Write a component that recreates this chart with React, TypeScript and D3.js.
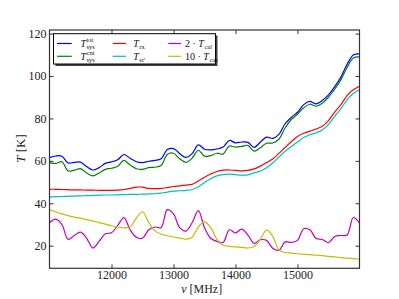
import * as d3 from 'd3'
import { useEffect, useRef } from 'react'

// frequency grid, MHz
const freqs = [
  11000, 11100, 11200, 11300, 11400, 11500, 11600, 11700, 11800, 11900,
  12000, 12100, 12200, 12300, 12400, 12500, 12600, 12700, 12800, 12900,
  13000, 13100, 13200, 13300, 13400, 13500, 13600, 13700, 13800, 13900,
  14000, 14100, 14200, 14300, 14400, 14500, 14600, 14700, 14800, 14900,
  15000, 15100, 15200, 15300, 15400, 15500, 15600, 15700, 15800, 15900, 16000,
]

// temperatures in K
const tSysTot = [
  61.5, 62.3, 62.2, 59.0, 59.3, 59.4, 57.3, 55.7, 56.8, 58.8,
  59.5, 60.5, 63.0, 61.2, 59.6, 59.2, 59.8, 60.2, 61.0, 65.3,
  65.8, 63.4, 61.6, 63.4, 67.5, 65.5, 65.2, 65.6, 66.5, 69.6,
  68.5, 68.9, 68.7, 66.4, 68.8, 71.2, 70.6, 72.5, 77.5, 80.5,
  82.9, 86.5, 88.0, 86.9, 88.5, 91.1, 95.0, 99.5, 105.5, 109.9, 110.4,
]
const tSysCnt = [
  59.2, 58.8, 59.6, 55.2, 55.6, 56.3, 54.3, 52.9, 54.3, 56.0,
  56.5, 57.5, 60.2, 58.0, 56.3, 56.0, 56.8, 57.0, 57.8, 63.0,
  63.6, 61.0, 59.3, 61.3, 65.0, 62.2, 62.5, 63.6, 63.2, 67.0,
  66.5, 66.8, 67.3, 64.6, 66.2, 68.3, 68.4, 70.2, 75.5, 79.5,
  82.0, 85.0, 86.7, 85.8, 87.2, 90.0, 93.8, 98.2, 104.0, 108.5, 109.0,
]
const tRx = [
  46.6, 46.6, 46.5, 46.4, 46.3, 46.3, 46.2, 46.2, 46.1, 46.1,
  46.1, 46.2, 46.5, 47.0, 47.6, 47.6, 47.0, 46.9, 47.0, 47.4,
  47.9, 48.2, 48.6, 48.9, 50.5, 52.3, 53.8, 55.0, 55.6, 55.7,
  55.5, 55.3, 55.5, 56.2, 57.5, 59.2, 60.9, 63.5, 66.3, 69.0,
  71.5, 73.0, 74.0, 75.0, 76.3, 79.0, 83.0, 86.5, 90.8, 93.5, 95.2,
]
const tSr = [
  43.0, 43.1, 43.2, 43.3, 43.4, 43.5, 43.6, 43.7, 43.8, 43.9,
  43.9, 44.0, 44.1, 44.2, 44.2, 44.3, 44.4, 44.5, 44.8, 45.3,
  45.7, 45.9, 46.1, 46.5, 47.8, 49.8, 51.6, 52.9, 53.5, 53.7,
  53.5, 53.3, 53.4, 54.3, 55.2, 56.8, 59.0, 61.8, 64.5, 66.8,
  68.9, 71.0, 72.3, 73.2, 74.6, 77.2, 81.0, 84.6, 88.8, 91.8, 93.5,
]
const tCal2 = [
  30.8, 32.5, 30.0, 23.0, 24.8, 26.4, 23.5, 18.9, 22.0, 25.6,
  26.1, 29.5, 33.2, 27.5, 24.0, 23.5, 27.5, 28.8, 28.5, 37.0,
  35.0, 28.5, 26.9, 30.8, 36.5, 28.5, 23.5, 22.0, 21.5, 27.5,
  26.0, 27.8, 25.0, 21.1, 22.8, 22.5, 18.8, 17.8, 21.8, 21.5,
  22.5, 28.0, 27.5, 23.4, 22.9, 21.4, 24.3, 24.8, 25.0, 33.3, 30.6,
]
const tCas10 = [
  36.9, 36.0, 35.0, 34.2, 33.5, 33.0, 32.3, 31.6, 30.9, 30.2,
  29.4, 28.8, 28.4, 28.8, 33.0, 36.0, 31.0, 27.0, 25.5, 24.7,
  24.1, 23.6, 23.1, 24.0, 28.8, 31.2, 28.5, 23.0, 20.2, 19.7,
  19.4, 19.2, 18.9, 19.6, 23.0, 27.3, 24.5, 18.0, 16.8, 16.5,
  16.2, 16.0, 15.8, 15.5, 15.3, 15.0, 14.7, 14.4, 14.1, 13.9, 13.6,
]

const xTicks = [12000, 13000, 14000, 15000]
const yTicks = [20, 40, 60, 80, 100, 120]

const series = [
  { values: tSysTot, color: '#0000ff', pre: '', base: 'T', sub: 'sys', sup: 'tot' },
  { values: tSysCnt, color: '#008000', pre: '', base: 'T', sub: 'sys', sup: 'cnt' },
  { values: tRx, color: '#ff0000', pre: '', base: 'T', sub: 'rx', sup: '' },
  { values: tSr, color: '#00bfbf', pre: '', base: 'T', sub: "sr'", sup: '' },
  { values: tCal2, color: '#bf00bf', pre: '2 · ', base: 'T', sub: 'cal', sup: '' },
  { values: tCas10, color: '#bfbf00', pre: '10 · ', base: 'T', sub: 'cas', sup: '' },
]

const W = 399
const H = 299
const left = 49.5, right = 359.5, top = 30, bottom = 268.3

const App = () => {
  const svgRef = useRef(null)

  useEffect(() => {
    const svg = d3.select(svgRef.current)
    svg.selectAll('*').remove()
    const font = '"Liberation Serif", "DejaVu Serif", serif'

    const x = d3.scaleLinear().domain([11000, 16000]).range([left, right])
    const y = d3.scaleLinear().domain([9.34, 121.7]).range([bottom, top])

    svg.append('rect').attr('width', W).attr('height', H).attr('fill', 'white')

    // data lines
    const line = d3.line()
      .x((_, i) => x(freqs[i]))
      .y(d => y(d))
      .curve(d3.curveCatmullRom.alpha(0.5))

    series.forEach(s => {
      svg.append('path')
        .datum(s.values)
        .attr('d', line)
        .attr('fill', 'none')
        .attr('stroke', s.color)
        .attr('stroke-width', 1.2)
    })

    // axes, ticks pointing inward on all four sides
    const styleAxis = g => {
      g.select('.domain').remove()
      g.selectAll('line').attr('stroke', '#000').attr('stroke-width', 0.8)
      g.selectAll('text').attr('font-family', font).attr('font-size', 12).attr('fill', '#222')
    }
    svg.append('g').attr('transform', `translate(0,${bottom})`)
      .call(d3.axisBottom(x).tickValues(xTicks).tickSize(-4).tickPadding(2).tickFormat(d3.format('d')))
      .call(styleAxis)
    svg.append('g').attr('transform', `translate(0,${top})`)
      .call(d3.axisTop(x).tickValues(xTicks).tickSize(-4).tickFormat(() => ''))
      .call(styleAxis)
    svg.append('g').attr('transform', `translate(${left},0)`)
      .call(d3.axisLeft(y).tickValues(yTicks).tickSize(-4).tickPadding(3))
      .call(styleAxis)
    svg.append('g').attr('transform', `translate(${right},0)`)
      .call(d3.axisRight(y).tickValues(yTicks).tickSize(-4).tickFormat(() => ''))
      .call(styleAxis)

    svg.append('rect')
      .attr('x', left).attr('y', top)
      .attr('width', right - left).attr('height', bottom - top)
      .attr('fill', 'none').attr('stroke', '#333').attr('stroke-width', 1.2)

    // axis labels
    svg.append('text')
      .attr('x', 201.7).attr('y', 293)
      .attr('text-anchor', 'middle')
      .attr('font-family', font).attr('font-size', 12).attr('fill', '#222')
      .call(t => {
        t.append('tspan').attr('font-style', 'italic').text('ν')
        t.append('tspan').text(' [MHz]')
      })
    svg.append('text')
      .attr('transform', 'translate(25,148.5) rotate(-90)')
      .attr('text-anchor', 'middle')
      .attr('font-family', font).attr('font-size', 13).attr('fill', '#222')
      .call(t => {
        t.append('tspan').attr('font-style', 'italic').text('T')
        t.append('tspan').text(' [K]')
      })

    // legend
    const lg = svg.append('g')
    lg.append('rect')
      .attr('x', 55.5).attr('y', 35.5).attr('width', 162).attr('height', 30.5)
      .attr('fill', '#444')
    lg.append('rect')
      .attr('x', 53.5).attr('y', 33.7).attr('width', 162).attr('height', 30.3)
      .attr('fill', 'white').attr('stroke', '#000').attr('stroke-width', 1)

    const cols = [
      { x0: 57, x1: 71.7, tx: 80.5 },
      { x0: 112.7, x1: 126, tx: 133.3 },
      { x0: 168.3, x1: 181, tx: 185 },
    ]
    const rows = [43.5, 56.3]
    series.forEach((s, i) => {
      const c = cols[Math.floor(i / 2)]
      const ry = rows[i % 2]
      lg.append('line')
        .attr('x1', c.x0).attr('x2', c.x1).attr('y1', ry).attr('y2', ry)
        .attr('stroke', s.color).attr('stroke-width', 1.2)
      const t = lg.append('text')
        .attr('x', c.tx).attr('y', ry + 3.5)
        .attr('font-family', font).attr('font-size', 10).attr('fill', '#111')
      if (s.pre) t.append('tspan').text(s.pre)
      t.append('tspan').attr('font-style', 'italic').text(s.base)
      const node = t.node()
      const bx = node.getComputedTextLength()
      if (s.sup) {
        lg.append('text')
          .attr('x', c.tx + bx + 0.5).attr('y', ry - 1.5)
          .attr('font-family', font).attr('font-size', 6.5).attr('fill', '#111')
          .text(s.sup)
      }
      lg.append('text')
        .attr('x', c.tx + bx + 0.5).attr('y', ry + 5.5)
        .attr('font-family', font).attr('font-size', 6.5).attr('fill', '#111')
        .text(s.sub)
    })
  }, [])

  return (
    <svg
      ref={svgRef}
      width={W}
      height={H}
      style={{ position: 'absolute', left: 0, top: 0 }}
    />
  )
}

export default App
